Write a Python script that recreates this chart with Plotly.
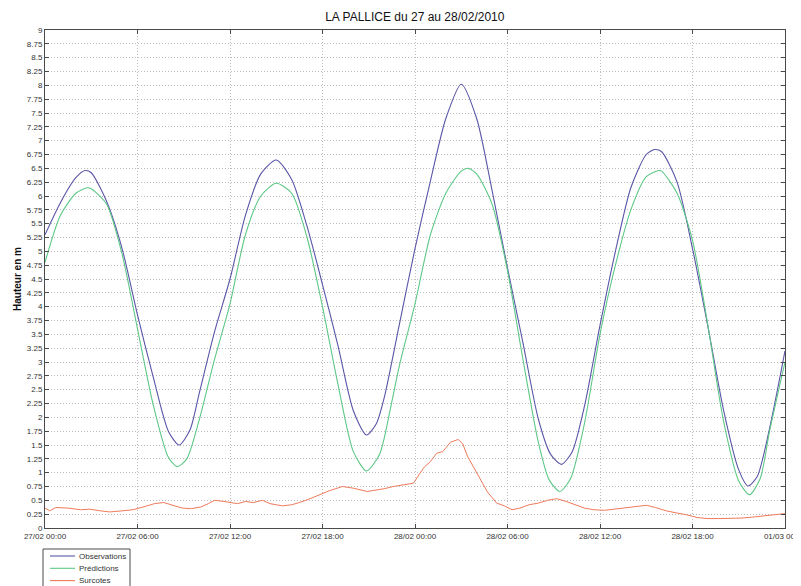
import plotly.graph_objects as go

# hours since 27/02/2010 00:00
obs_h = [0, 1, 2, 2.6, 3, 4, 5, 6, 7, 8, 8.7, 9.4, 10, 11, 12, 13, 14, 15, 16, 17, 18, 19, 20, 20.85, 21.5, 22, 23,
         24, 25, 26, 27, 28, 29, 30, 31, 32, 32.8, 33.5, 34.2, 35, 36, 37, 38, 39, 39.55, 40, 41, 42, 43, 44, 45, 45.6,
         46.2, 47, 48]
obs_v = [5.3, 5.88, 6.33, 6.46, 6.42, 5.9, 5.05, 3.85, 2.75, 1.75, 1.5, 1.77, 2.43, 3.55, 4.5, 5.65, 6.4, 6.65, 6.3,
         5.45, 4.4, 3.3, 2.12, 1.68, 1.89, 2.35, 3.7, 5.05, 6.27, 7.4, 8.02, 7.4, 6.1, 4.7, 3.35, 1.97, 1.33, 1.15, 1.38,
         2.21, 3.66, 5.0, 6.15, 6.75, 6.84, 6.8, 6.25, 5.05, 3.64, 2.15, 1.05, 0.76, 0.93, 1.8, 3.2]

pred_h = [0, 1, 2, 2.75, 3, 4, 5, 6, 7, 8, 8.58, 9.2, 10, 11, 12, 13, 14, 15, 16, 17, 18, 19, 20, 20.86, 21.7, 22,
          23, 24, 25, 26, 27, 27.45, 28, 29, 30, 31, 32, 32.7, 33.4, 34.1, 35, 36, 37, 38, 39, 39.8, 40, 41, 42, 43,
          44, 45, 45.7, 46.4, 47, 48]
pred_v = [4.8, 5.65, 6.05, 6.15, 6.13, 5.85, 4.95, 3.6, 2.25, 1.28, 1.11, 1.25, 1.95, 3.05, 4.05, 5.3, 6.0, 6.23,
          6.05, 5.25, 4.0, 2.6, 1.38, 1.03, 1.33, 1.62, 2.95, 4.05, 5.3, 6.05, 6.45, 6.5, 6.4, 5.85, 4.65, 3.05, 1.55,
          0.87, 0.66, 0.9, 1.9, 3.5, 4.75, 5.75, 6.35, 6.46, 6.45, 6.05, 5.2, 3.66, 1.95, 0.85, 0.6, 0.9, 1.75, 3.0]

surc_h = [0, 0.3, 0.7, 1.5, 2.3, 2.9, 3.6, 4.2, 5.0, 5.7, 6.5, 7.1, 7.7, 8.3, 8.9, 9.5, 10.1, 10.6, 11.0, 11.6, 12.0,
          12.5, 13.0, 13.5, 14.1, 14.6, 15.0, 15.4, 16.0, 16.5, 17.2, 17.8, 18.5, 19.3, 20.0, 20.9, 21.5, 22.0, 22.6,
          23.2, 23.9, 24.3, 24.6, 25.0, 25.4, 25.8, 26.3, 26.8, 27.1, 27.4, 27.8, 28.2, 28.7, 29.3, 29.8, 30.3, 30.8,
          31.4, 32.0, 32.6, 33.2, 33.8, 34.4, 35.0, 35.6, 36.3, 36.9, 37.6, 38.3, 39.0, 39.6, 40.3, 41.0, 41.6, 42.3,
          43.0, 43.7, 44.4, 45.2, 46.0, 46.6, 47.3, 48]
surc_v = [0.36, 0.31, 0.37, 0.36, 0.33, 0.34, 0.31, 0.29, 0.31, 0.33, 0.39, 0.44, 0.46, 0.41, 0.36, 0.35, 0.38, 0.44,
          0.5, 0.48, 0.46, 0.44, 0.48, 0.46, 0.5, 0.44, 0.42, 0.4, 0.42, 0.46, 0.53, 0.6, 0.68, 0.75, 0.72, 0.66, 0.68,
          0.71, 0.75, 0.78, 0.81, 0.98, 1.1, 1.2, 1.35, 1.38, 1.55, 1.6, 1.52, 1.3, 1.1, 0.88, 0.65, 0.45, 0.4, 0.33,
          0.36, 0.42, 0.45, 0.5, 0.53, 0.48, 0.42, 0.36, 0.33, 0.32, 0.34, 0.36, 0.39, 0.41, 0.37, 0.31, 0.27, 0.24,
          0.19, 0.17, 0.17, 0.17, 0.18, 0.2, 0.22, 0.23, 0.26]

series_names = ["Observations", "Prédictions", "Surcotes"]
series_colors = ["#5a56a8", "#5ec887", "#ef7a5a"]

x_tick_vals = [0, 6, 12, 18, 24, 30, 36, 42, 48]
x_tick_text = ["27/02 00:00", "27/02 06:00", "27/02 12:00", "27/02 18:00", "28/02 00:00",
               "28/02 06:00", "28/02 12:00", "28/02 18:00", "01/03 00:00"]
y_tick_vals = [i * 0.25 for i in range(37)]
y_tick_text = [f"{v:g}" for v in y_tick_vals]

FONT = "Liberation Sans, Arial, sans-serif"

fig = go.Figure()
fig.add_trace(go.Scatter(x=obs_h, y=obs_v, mode="lines", name=series_names[0],
                         line=dict(color=series_colors[0], width=1.1, shape="spline", smoothing=0.7)))
fig.add_trace(go.Scatter(x=pred_h, y=pred_v, mode="lines", name=series_names[1],
                         line=dict(color=series_colors[1], width=1.1, shape="spline", smoothing=0.7)))
fig.add_trace(go.Scatter(x=surc_h, y=surc_v, mode="lines", name=series_names[2],
                         line=dict(color=series_colors[2], width=1.0)))

axis_common = dict(showline=True, linecolor="#4a4a4a", linewidth=1, mirror="allticks",
                   ticks="inside", ticklen=4, tickcolor="#4a4a4a",
                   showgrid=True, gridcolor="#bdbdbd", griddash="1px,2px", gridwidth=1,
                   zeroline=False, automargin=False,
                   tickfont=dict(family=FONT, size=8, color="#333333"))

fig.update_xaxes(range=[0, 48], tickmode="array", tickvals=x_tick_vals, ticktext=x_tick_text,
                 ticklabeloverflow="allow", **axis_common)
fig.update_yaxes(range=[0, 9], tickmode="array", tickvals=y_tick_vals, ticktext=y_tick_text,
                 title=dict(text="<b>Hauteur en m</b>", standoff=3,
                            font=dict(family=FONT, size=10, color="#111111")),
                 **axis_common)


# compact legend box as in the original figure, placed in paper coordinates
def px_x(sx):
    return (sx - 45) / 740.0


def px_y(sy):
    return (528 - sy) / 498.0


shapes = [dict(type="rect", xref="paper", yref="paper", x0=px_x(43), x1=px_x(130), y0=px_y(604), y1=px_y(549),
               line=dict(color="#4a4a4a", width=1), fillcolor="white", layer="above")]
annotations = []
for i, (nm, col) in enumerate(zip(series_names, series_colors)):
    sy = 556 + i * 12.3
    shapes.append(dict(type="line", xref="paper", yref="paper", x0=px_x(50), x1=px_x(75), y0=px_y(sy), y1=px_y(sy),
                       line=dict(color=col, width=1.1), layer="above"))
    annotations.append(dict(text=nm, xref="paper", yref="paper", x=px_x(77), y=px_y(sy), xanchor="left",
                            yanchor="middle", showarrow=False, font=dict(family=FONT, size=8, color="#333333")))

fig.update_layout(
    width=793, height=578,
    margin=dict(l=37, r=16, t=22, b=58, autoexpand=False),
    paper_bgcolor="white", plot_bgcolor="white",
    title=dict(text="LA PALLICE du 27 au 28/02/2010", x=0.513, xanchor="center", y=0.984, yanchor="middle",
               font=dict(family=FONT, size=12, color="#111111")),
    showlegend=False,
    shapes=shapes,
    annotations=annotations,
)

fig.write_html("out.html")
